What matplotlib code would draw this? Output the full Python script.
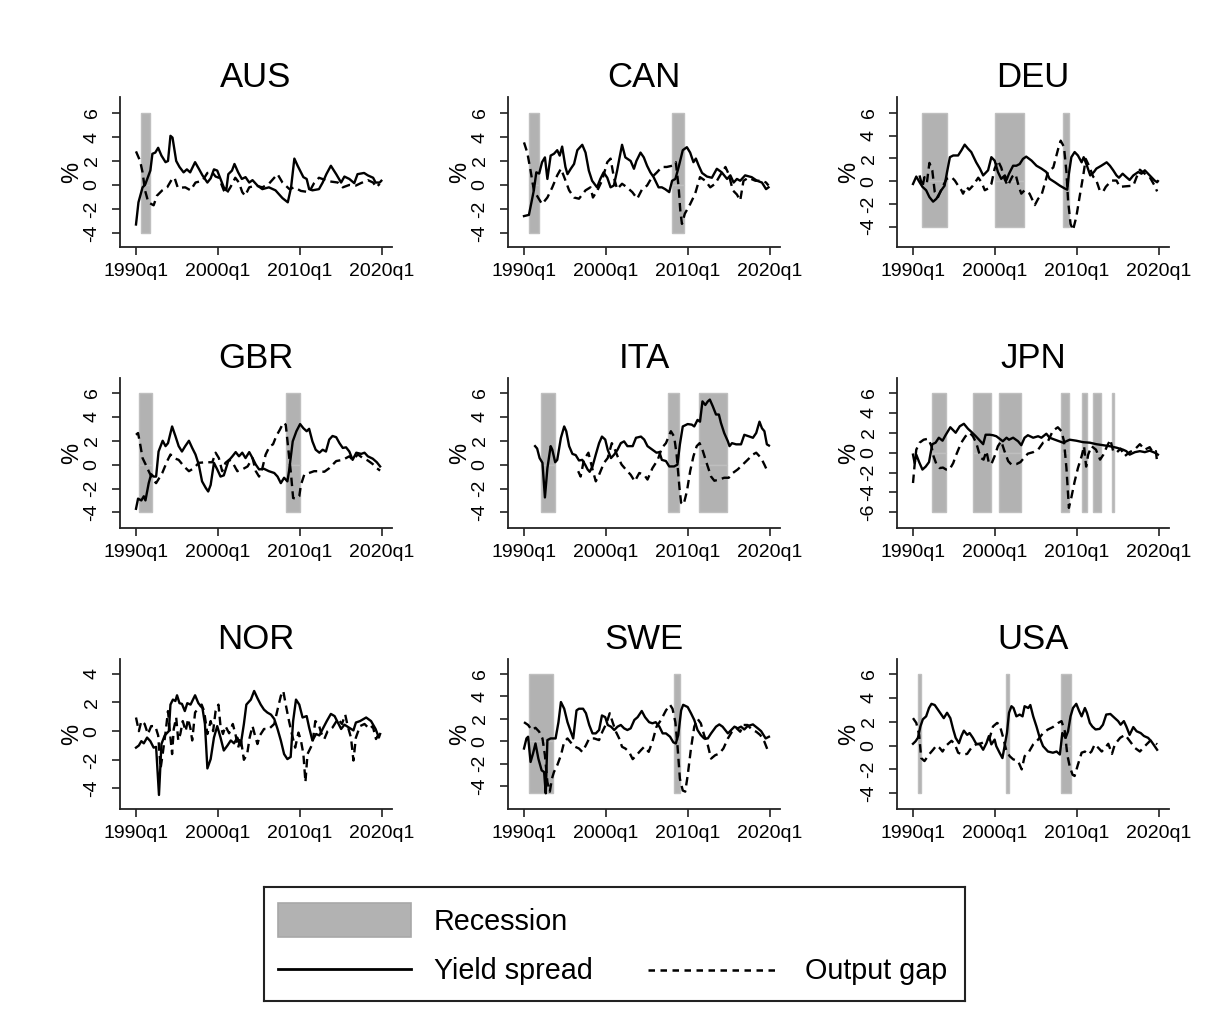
import matplotlib
matplotlib.use("Agg")
import matplotlib.pyplot as plt
from matplotlib.lines import Line2D

plt.rcParams['font.family'] = ['Liberation Sans', 'DejaVu Sans']

# ---------------- data (year, value) ----------------
AUS_YS = [(1990.0,-3.3),(1990.3,-1.45),(1990.8,-0.2),(1991.1,0.0),(1991.75,1.2),(1992.0,2.6),(1992.35,2.7),(1992.7,3.1),(1993.1,2.45),(1993.6,1.9),(1993.9,2.0),(1994.2,4.1),(1994.45,3.95),(1994.9,2.0),(1995.3,1.5),(1995.8,1.05),(1996.2,1.3),(1996.6,1.05),(1997.2,1.9),(1997.7,1.3),(1998.1,0.8),(1998.7,0.2),(1999.1,0.55),(1999.5,1.3),(1999.9,1.2),(2000.3,0.5),(2000.7,-0.2),(2001.0,-0.45),(2001.25,0.9),(2001.7,1.2),(2002.0,1.75),(2002.45,1.05),(2002.9,0.5),(2003.35,0.65),(2003.8,0.2),(2004.2,0.4),(2004.8,-0.05),(2005.4,-0.35),(2006.2,-0.2),(2007.0,-0.45),(2007.85,-1.1),(2008.5,-1.45),(2008.9,-0.2),(2009.3,2.2),(2009.7,1.6),(2010.4,0.65),(2010.8,0.5),(2011.1,-0.35),(2011.5,-0.45),(2012.3,-0.35),(2012.75,0.2),(2013.2,0.9),(2013.75,1.6),(2014.4,0.9),(2015.0,0.2),(2015.4,0.7),(2016.0,0.5),(2016.6,0.15),(2017.0,0.9),(2017.8,1.0),(2018.25,0.8),(2018.9,0.6),(2019.2,0.2),(2019.7,0.2),(2019.9,0.35)]
AUS_OG = [(1990.0,2.8),(1990.5,2.0),(1990.8,1.05),(1991.1,-0.45),(1991.5,-1.45),(1992.15,-1.7),(1992.55,-0.9),(1993.2,-0.45),(1993.8,-0.2),(1994.4,0.5),(1994.7,0.6),(1995.1,-0.25),(1996.0,-0.2),(1996.65,-0.45),(1997.25,0.2),(1998.1,0.35),(1998.7,1.0),(1999.3,1.05),(1999.7,0.7),(2000.1,0.6),(2000.7,-0.45),(2001.0,-0.75),(2001.5,-0.2),(2002.1,0.6),(2002.55,0.2),(2002.95,-0.6),(2003.3,-0.9),(2003.8,-0.2),(2004.6,-0.05),(2005.4,-0.2),(2006.2,0.1),(2006.85,0.6),(2007.25,0.9),(2007.85,0.2),(2008.7,-0.35),(2009.3,-0.2),(2010.1,-0.5),(2011.1,-0.6),(2011.7,0.15),(2012.3,0.6),(2013.55,0.3),(2014.6,0.2),(2015.2,-0.2),(2016.0,0.0),(2016.8,-0.05),(2017.4,0.15),(2018.25,0.4),(2018.9,0.2),(2019.3,-0.2),(2019.7,0.1)]
AUS_REC = [(1990.55, 1991.75)]

CAN_YS = [(1990.0,-2.6),(1990.6,-2.5),(1991.2,-0.45),(1991.5,1.05),(1991.85,0.95),(1992.2,1.9),(1992.55,2.3),(1992.85,0.5),(1993.25,2.45),(1993.65,2.6),(1994.05,2.9),(1994.35,2.45),(1994.65,3.2),(1995.05,1.5),(1995.3,0.9),(1995.7,1.35),(1996.1,1.75),(1996.5,2.9),(1997.1,3.35),(1997.5,2.7),(1997.9,1.2),(1998.3,0.35),(1998.9,-0.2),(1999.3,0.5),(1999.7,1.05),(2000.15,0.6),(2000.55,-0.2),(2000.95,-0.05),(2001.35,1.2),(2001.65,2.3),(2001.95,3.35),(2002.35,2.3),(2003.0,2.0),(2003.4,1.35),(2003.7,2.0),(2004.2,2.7),(2004.6,2.3),(2005.0,1.6),(2005.4,1.05),(2005.8,0.65),(2006.4,-0.2),(2006.8,-0.2),(2007.2,-0.35),(2007.7,-0.6),(2008.05,0.35),(2008.45,0.5),(2008.85,1.5),(2009.35,2.9),(2009.85,3.15),(2010.25,2.7),(2010.65,1.9),(2010.95,2.2),(2011.3,1.6),(2011.7,1.0),(2012.3,0.7),(2012.9,0.6),(2013.5,1.35),(2014.1,1.05),(2014.75,0.5),(2015.15,0.8),(2015.55,0.2),(2015.95,0.5),(2016.35,0.35),(2016.95,0.8),(2017.75,0.65),(2018.4,0.35),(2019.0,0.2),(2019.5,-0.35),(2019.8,-0.2)]
CAN_OG = [(1990.0,3.55),(1990.4,2.7),(1990.8,1.2),(1991.2,-0.45),(1991.8,-1.15),(1992.2,-1.6),(1992.85,-1.05),(1993.45,-0.2),(1994.05,0.8),(1994.5,1.35),(1994.9,0.65),(1995.5,-0.45),(1996.1,-1.05),(1996.7,-1.15),(1997.5,-0.45),(1998.1,-0.2),(1998.4,-1.05),(1998.95,-0.45),(1999.5,0.35),(2000.15,1.9),(2000.55,2.2),(2000.95,0.65),(2001.35,-0.35),(2001.95,0.1),(2002.55,-0.2),(2003.2,-0.6),(2003.8,-1.15),(2004.4,-0.35),(2005.0,-0.05),(2005.6,0.65),(2006.2,1.05),(2006.8,1.5),(2007.4,1.5),(2008.05,1.6),(2008.5,1.9),(2008.85,-0.2),(2009.05,-2.15),(2009.25,-3.25),(2009.6,-2.4),(2010.25,-1.6),(2010.85,-0.75),(2011.45,0.65),(2012.1,0.35),(2012.7,-0.2),(2013.3,0.1),(2013.9,0.8),(2014.55,1.5),(2014.95,0.9),(2015.45,-0.45),(2015.95,-0.8),(2016.35,-1.3),(2016.75,0.35),(2017.35,0.6),(2018.2,0.35),(2019.0,0.35),(2019.5,0.2),(2019.8,-0.05)]
CAN_REC = [(1990.6, 1991.8), (2008.05, 2009.45)]

DEU_YS = [(1990.0,-0.25),(1990.4,0.4),(1990.8,-0.1),(1991.15,-0.5),(1991.6,-0.8),(1992.0,-1.4),(1992.45,-1.8),(1992.85,-1.55),(1993.45,-0.8),(1993.85,-0.4),(1994.15,0.8),(1994.5,2.1),(1994.9,2.25),(1995.5,2.25),(1995.9,2.7),(1996.3,3.2),(1996.7,2.85),(1997.1,2.55),(1997.7,1.65),(1998.15,1.1),(1998.55,0.5),(1999.15,0.95),(1999.55,2.1),(1999.95,1.8),(2000.35,0.8),(2000.75,0.2),(2001.2,0.5),(2001.4,0.1),(2001.7,0.65),(2002.2,1.35),(2002.6,1.35),(2003.0,1.5),(2003.4,1.95),(2003.8,2.15),(2004.45,1.8),(2005.05,1.35),(2005.65,1.1),(2006.25,0.8),(2006.65,0.2),(2007.3,-0.1),(2007.9,-0.4),(2008.5,-0.65),(2008.8,-0.75),(2009.0,0.65),(2009.3,2.1),(2009.7,2.55),(2010.1,2.25),(2010.55,1.65),(2010.8,2.1),(2011.2,1.35),(2011.6,0.5),(2012.05,0.8),(2012.35,1.1),(2012.95,1.35),(2013.6,1.65),(2014.0,1.35),(2014.4,0.95),(2014.8,0.5),(2015.1,0.3),(2015.55,0.65),(2016.0,0.35),(2016.4,0.1),(2016.85,0.5),(2017.45,0.8),(2017.85,0.65),(2018.25,0.95),(2018.85,0.5),(2019.45,0.05),(2019.75,-0.1),(2019.85,0.0)]
DEU_OG = [(1990.8,0.5),(1991.15,-0.5),(1991.4,0.35),(1991.7,-0.1),(1992.0,1.6),(1992.35,0.95),(1992.65,-0.95),(1993.05,-1.4),(1993.6,-0.5),(1994.1,0.2),(1994.7,0.35),(1995.1,0.05),(1995.5,-0.4),(1995.9,-0.8),(1996.1,-1.1),(1996.5,-0.5),(1996.85,-0.75),(1997.3,-0.4),(1997.95,0.3),(1998.35,-0.1),(1998.75,-0.8),(1999.15,-0.65),(1999.55,-0.25),(1999.95,1.1),(2000.35,1.8),(2000.75,1.2),(2001.15,0.2),(2001.55,-0.4),(2002.1,0.4),(2002.5,0.6),(2002.9,-0.5),(2003.2,-1.1),(2003.6,-0.8),(2004.2,-1.1),(2004.85,-2.1),(2005.25,-1.55),(2005.65,-1.25),(2006.05,-0.25),(2006.45,0.8),(2007.1,1.2),(2007.7,2.85),(2008.0,3.55),(2008.4,3.0),(2008.7,0.8),(2008.9,-1.7),(2009.2,-3.75),(2009.5,-4.3),(2009.9,-3.15),(2010.3,-1.4),(2010.75,0.5),(2011.05,1.95),(2011.45,1.35),(2011.95,0.4),(2012.35,0.05),(2012.75,-0.8),(2013.15,-0.95),(2013.5,-0.5),(2014.2,0.05),(2014.8,0.05),(2015.2,-0.5),(2016.0,-0.45),(2016.85,-0.4),(2017.25,0.35),(2017.65,1.0),(2018.25,0.65),(2018.85,0.35),(2019.45,-0.4),(2019.75,-0.9)]
DEU_REC = [(1991.1, 1994.2), (2000.05, 2003.5), (2008.3, 2009.0)]

GBR_YS = [(1990.0,-3.7),(1990.25,-2.85),(1990.65,-3.0),(1990.95,-2.65),(1991.15,-3.0),(1991.55,-1.55),(1991.85,-0.8),(1992.15,-1.0),(1992.45,-1.0),(1992.75,1.1),(1993.25,2.0),(1993.6,1.55),(1993.9,1.8),(1994.4,3.2),(1994.8,2.4),(1995.2,1.55),(1995.6,1.1),(1996.0,1.55),(1996.45,2.0),(1996.85,1.4),(1997.25,0.85),(1997.65,0.0),(1998.05,-1.4),(1998.5,-1.95),(1998.8,-2.25),(1999.1,-1.7),(1999.5,0.15),(1999.9,-0.4),(2000.3,-1.0),(2000.7,-0.9),(2001.25,0.3),(2001.75,0.7),(2002.15,1.05),(2002.55,0.7),(2002.95,1.0),(2003.35,0.55),(2003.8,1.05),(2004.2,0.55),(2004.6,0.0),(2005.0,-0.4),(2005.6,-0.35),(2006.2,-0.55),(2006.85,-0.7),(2007.25,-1.0),(2007.65,-1.55),(2008.05,-1.1),(2008.45,-1.4),(2008.65,-0.55),(2009.1,1.95),(2009.55,2.8),(2010.0,3.4),(2010.4,3.05),(2010.8,2.8),(2011.1,3.0),(2011.5,1.95),(2011.9,1.25),(2012.35,1.0),(2012.75,1.25),(2013.15,1.1),(2013.55,2.1),(2013.95,2.4),(2014.4,2.3),(2014.8,1.8),(2015.2,1.4),(2015.6,1.45),(2016.0,1.1),(2016.4,0.4),(2016.85,1.0),(2017.45,0.9),(2017.85,1.0),(2018.25,0.7),(2018.85,0.5),(2019.35,0.2),(2019.75,-0.15)]
GBR_OG = [(1990.0,2.5),(1990.25,2.65),(1990.55,1.55),(1990.8,0.55),(1991.15,0.05),(1991.55,-0.55),(1992.05,-1.25),(1992.45,-1.55),(1992.85,-1.1),(1993.2,-0.7),(1993.8,0.3),(1994.2,0.85),(1994.6,0.55),(1995.2,0.4),(1995.85,-0.15),(1996.45,-0.55),(1997.05,-0.3),(1997.65,0.15),(1998.5,0.2),(1999.3,0.2),(1999.7,1.0),(2000.1,0.55),(2000.5,-0.55),(2000.9,0.15),(2001.35,0.4),(2001.75,0.2),(2002.35,-0.55),(2002.95,-0.4),(2003.6,-0.15),(2004.2,0.55),(2004.6,-0.55),(2005.0,-1.0),(2005.4,-0.3),(2005.8,0.85),(2006.3,1.55),(2006.7,1.7),(2007.1,2.4),(2007.55,2.95),(2007.95,3.5),(2008.25,3.35),(2008.55,1.4),(2008.9,-0.85),(2009.15,-2.8),(2009.55,-2.85),(2009.9,-2.65),(2010.1,-1.7),(2010.5,-0.85),(2011.1,-0.7),(2011.7,-0.55),(2012.35,-0.55),(2012.95,-0.6),(2013.55,-0.3),(2014.4,0.3),(2015.2,0.4),(2016.0,0.7),(2016.4,0.4),(2017.05,0.85),(2017.65,0.55),(2018.25,0.35),(2018.85,0.05),(2019.35,-0.3),(2019.75,-0.5)]
GBR_REC = [(1990.35, 1991.95), (2008.25, 2010.0)]

ITA_YS = [(1991.35,1.55),(1991.6,1.35),(1991.9,0.55),(1992.25,0.15),(1992.55,-2.75),(1992.85,-0.3),(1993.25,1.55),(1993.45,1.25),(1993.8,0.2),(1994.05,0.4),(1994.5,2.25),(1994.9,3.2),(1995.15,2.8),(1995.5,1.55),(1995.9,0.9),(1996.3,0.8),(1996.7,0.35),(1997.1,0.4),(1997.45,0.0),(1997.75,-0.4),(1998.0,-0.6),(1998.35,-0.15),(1998.75,0.85),(1999.15,1.8),(1999.5,2.35),(1999.9,2.1),(2000.2,1.25),(2000.6,0.55),(2001.0,0.85),(2001.4,1.25),(2001.8,1.8),(2002.2,1.95),(2002.6,1.55),(2003.25,1.55),(2003.65,2.25),(2004.25,2.35),(2004.65,2.1),(2005.05,1.55),(2005.65,1.25),(2006.15,1.0),(2006.5,1.05),(2006.8,0.4),(2007.3,0.3),(2007.7,-0.15),(2008.3,-0.15),(2008.7,0.0),(2009.0,1.7),(2009.35,3.2),(2009.95,3.4),(2010.45,3.35),(2010.75,3.2),(2011.15,3.75),(2011.45,3.6),(2011.75,5.3),(2012.1,5.0),(2012.4,5.3),(2012.65,5.45),(2013.0,4.9),(2013.4,4.2),(2013.75,4.2),(2014.0,3.5),(2014.4,2.65),(2014.85,1.95),(2015.05,1.55),(2015.35,1.8),(2015.85,1.7),(2016.45,1.7),(2016.85,2.5),(2017.5,2.35),(2017.9,2.25),(2018.3,2.65),(2018.7,3.6),(2019.0,3.05),(2019.3,2.8),(2019.6,1.7),(2019.85,1.6)]
ITA_OG = [(1996.6,-0.55),(1996.9,-1.0),(1997.3,0.4),(1997.85,1.0),(1998.35,-0.4),(1998.75,-1.4),(1999.15,-0.85),(1999.75,0.15),(2000.2,0.55),(2000.7,1.8),(2001.0,1.4),(2001.4,0.7),(2001.9,0.0),(2002.4,-0.4),(2003.0,-0.85),(2003.5,-1.4),(2004.05,-0.7),(2004.65,-0.85),(2005.05,-1.25),(2005.65,-0.3),(2006.3,0.4),(2006.8,1.4),(2007.3,1.8),(2007.9,2.8),(2008.3,2.35),(2008.6,0.85),(2008.95,-1.95),(2009.15,-3.2),(2009.45,-3.35),(2009.85,-2.25),(2010.25,-0.55),(2010.65,0.7),(2011.05,1.55),(2011.4,1.8),(2011.75,1.25),(2012.25,0.15),(2012.8,-1.0),(2013.2,-1.35),(2013.8,-1.25),(2014.4,-1.1),(2014.95,-1.1),(2015.45,-0.7),(2016.05,-0.4),(2016.65,0.0),(2017.25,0.4),(2017.9,0.85),(2018.3,1.0),(2018.9,0.55),(2019.3,0.0),(2019.7,-0.6)]
ITA_REC = [(1992.1, 1993.8), (2007.6, 2008.95), (2011.35, 2014.75)]

JPN_YS = [(1990.0,-0.2),(1990.2,-1.05),(1990.4,-0.2),(1990.75,-0.95),(1991.15,-1.7),(1991.55,-1.4),(1991.95,-0.95),(1992.35,0.85),(1992.75,1.0),(1993.15,1.5),(1993.6,1.2),(1994.0,1.8),(1994.55,2.55),(1995.2,2.0),(1995.7,2.65),(1996.2,2.9),(1996.7,2.4),(1997.1,2.1),(1997.65,1.65),(1998.05,1.3),(1998.55,0.85),(1998.85,1.8),(1999.35,1.8),(1999.75,1.75),(2000.15,1.65),(2000.55,1.4),(2000.95,1.15),(2001.4,1.5),(2001.7,1.3),(2002.2,1.5),(2002.8,1.15),(2003.2,0.75),(2003.6,1.5),(2004.0,1.75),(2004.65,1.5),(2005.25,1.65),(2005.65,1.5),(2006.25,1.9),(2006.65,1.5),(2007.3,1.3),(2007.8,1.15),(2008.3,1.0),(2008.7,1.15),(2009.1,1.3),(2009.9,1.2),(2010.75,1.05),(2011.55,1.0),(2012.35,0.85),(2013.15,0.75),(2013.95,0.65),(2014.8,0.5),(2015.6,0.3),(2016.0,0.15),(2016.4,-0.2),(2017.05,0.05),(2017.65,0.15),(2018.25,0.05),(2018.85,0.2),(2019.45,0.0),(2019.85,-0.2)]
JPN_OG = [(1990.0,-3.05),(1990.2,-1.2),(1990.4,0.3),(1990.8,1.0),(1991.3,1.3),(1991.85,1.4),(1992.25,0.65),(1992.5,-0.35),(1992.85,-1.15),(1993.25,-1.55),(1993.65,-1.5),(1994.05,-1.7),(1994.45,-1.7),(1994.9,-1.05),(1995.2,-0.35),(1995.6,0.45),(1996.0,1.15),(1996.4,1.65),(1996.9,2.0),(1997.3,1.65),(1997.7,1.0),(1998.05,0.0),(1998.3,-0.55),(1998.6,-0.7),(1998.95,0.15),(1999.25,-1.05),(1999.55,-1.15),(1999.95,-0.35),(2000.35,0.65),(2000.75,1.15),(2001.15,0.15),(2001.6,-0.85),(2002.0,-1.2),(2002.6,-1.15),(2003.1,-0.95),(2003.5,-0.55),(2004.0,-0.1),(2004.65,0.05),(2005.25,0.3),(2005.85,1.0),(2006.45,1.15),(2007.05,2.2),(2007.65,2.55),(2008.1,2.15),(2008.4,1.15),(2008.7,-1.55),(2008.9,-4.2),(2009.0,-5.55),(2009.3,-4.5),(2009.7,-2.9),(2010.1,-1.55),(2010.55,-0.35),(2010.85,0.65),(2011.1,-1.4),(2011.35,-0.2),(2011.75,0.65),(2012.3,0.3),(2012.8,-0.7),(2013.2,-0.2),(2013.65,0.65),(2014.05,1.3),(2014.4,0.15),(2014.8,0.0),(2015.3,0.4),(2015.8,-0.35),(2016.4,0.05),(2017.0,0.3),(2017.65,0.85),(2018.25,0.3),(2018.85,0.55),(2019.25,0.0),(2019.6,0.15),(2019.75,-0.95)]
JPN_REC = [(1992.3, 1994.0), (1997.3, 1999.45), (2000.5, 2003.2), (2008.0, 2009.0), (2010.55, 2011.25), (2011.95, 2012.95), (2014.2, 2014.5)]

NOR_YS = [(1990.0,-1.15),(1990.35,-1.0),(1990.65,-0.7),(1990.95,-0.85),(1991.35,-0.45),(1991.75,-0.7),(1992.15,-1.15),(1992.45,-1.1),(1992.8,-4.45),(1993.1,-0.9),(1993.5,-0.3),(1994.0,0.0),(1994.2,1.85),(1994.5,2.2),(1994.8,2.1),(1995.0,2.5),(1995.3,1.95),(1995.6,1.9),(1995.95,1.4),(1996.25,1.95),(1996.65,1.85),(1997.2,2.5),(1997.6,1.95),(1998.1,1.6),(1998.4,0.5),(1998.7,-2.6),(1999.1,-1.95),(1999.5,-0.45),(1999.9,0.35),(2000.3,-0.45),(2000.7,-1.35),(2001.15,-1.0),(2001.55,-0.65),(2001.95,-0.85),(2002.35,-0.45),(2002.75,-1.0),(2003.15,0.5),(2003.45,1.85),(2004.0,2.2),(2004.4,2.8),(2004.8,2.3),(2005.2,1.85),(2005.6,1.5),(2006.0,1.3),(2006.45,1.15),(2006.85,0.85),(2007.25,0.15),(2007.65,-0.65),(2008.05,-1.6),(2008.45,-1.95),(2008.85,-1.8),(2009.15,0.7),(2009.5,2.2),(2009.9,1.85),(2010.3,0.95),(2010.8,1.05),(2011.1,0.25),(2011.5,-0.65),(2011.95,-0.2),(2012.35,-0.3),(2012.75,0.15),(2013.25,0.7),(2013.75,1.2),(2014.2,1.05),(2014.6,0.6),(2015.0,0.15),(2015.4,0.45),(2015.95,0.25),(2016.5,0.05),(2016.8,0.6),(2017.3,0.7),(2018.05,0.95),(2018.65,0.7),(2019.2,0.15),(2019.6,-0.45),(2019.75,-0.2)]
NOR_OG = [(1990.0,0.95),(1990.35,0.0),(1990.65,0.7),(1991.05,0.5),(1991.45,-0.2),(1991.85,0.35),(1992.35,0.35),(1992.7,-0.3),(1993.0,-2.6),(1993.25,-1.6),(1993.6,-0.1),(1993.9,1.4),(1994.2,-0.45),(1994.4,-1.6),(1994.6,0.15),(1994.9,0.95),(1995.15,-0.65),(1995.4,-0.2),(1995.7,0.7),(1996.05,0.0),(1996.35,0.85),(1996.65,0.15),(1996.85,-0.65),(1997.2,1.3),(1997.6,1.6),(1998.0,1.85),(1998.3,1.4),(1998.7,-0.2),(1999.1,0.7),(1999.4,0.0),(1999.7,1.4),(2000.05,1.85),(2000.3,0.35),(2000.6,-0.2),(2000.9,0.35),(2001.35,-0.15),(2001.8,0.5),(2002.15,-0.3),(2002.45,-1.15),(2002.75,-0.45),(2003.15,-2.0),(2003.55,-1.6),(2003.85,-0.45),(2004.2,0.35),(2004.5,-0.3),(2004.8,-0.9),(2005.1,-0.3),(2005.6,0.15),(2006.2,0.15),(2006.85,0.5),(2007.25,1.5),(2007.65,2.45),(2007.95,2.8),(2008.25,1.85),(2008.65,0.7),(2009.0,-0.2),(2009.4,-1.15),(2009.8,-0.1),(2010.1,-0.65),(2010.4,-1.6),(2010.65,-3.55),(2010.9,-1.6),(2011.2,-1.25),(2011.5,-0.9),(2011.85,0.7),(2012.25,0.5),(2012.55,-0.1),(2012.95,-0.55),(2013.35,0.0),(2013.95,0.25),(2014.6,0.85),(2015.1,0.5),(2015.5,1.15),(2015.8,0.35),(2016.2,-0.45),(2016.5,-2.05),(2016.8,-0.45),(2017.3,0.35),(2017.85,0.5),(2018.45,0.15),(2018.85,0.35),(2019.25,-0.55),(2019.6,-0.2)]
NOR_REC = []

SWE_YS = [(1990.0,-0.65),(1990.3,0.25),(1990.5,0.4),(1990.8,-1.85),(1991.1,-1.1),(1991.4,-0.2),(1991.75,-1.55),(1992.15,-2.6),(1992.45,-2.75),(1992.65,-4.65),(1992.85,0.1),(1993.25,0.25),(1993.85,0.25),(1994.2,1.7),(1994.5,3.5),(1994.9,2.9),(1995.3,1.7),(1995.7,0.85),(1996.0,0.25),(1996.4,2.75),(1996.7,2.9),(1997.2,2.9),(1997.55,2.5),(1997.95,1.45),(1998.35,0.7),(1998.75,0.7),(1999.15,1.0),(1999.5,2.3),(1999.9,2.15),(2000.2,1.45),(2000.6,1.3),(2001.0,1.0),(2001.4,1.3),(2001.8,1.45),(2002.2,1.15),(2002.6,1.0),(2003.0,1.15),(2003.45,1.9),(2003.85,2.15),(2004.35,2.7),(2004.75,2.15),(2005.25,1.7),(2005.65,1.6),(2006.05,1.7),(2006.5,1.3),(2006.9,0.7),(2007.3,0.7),(2007.8,0.4),(2008.2,-0.1),(2008.5,-0.2),(2008.8,0.55),(2009.15,2.75),(2009.4,3.25),(2009.95,3.05),(2010.35,2.5),(2010.75,1.9),(2011.15,1.0),(2011.55,0.55),(2011.95,0.25),(2012.4,0.25),(2012.8,0.7),(2013.4,1.3),(2013.8,1.5),(2014.2,1.3),(2014.85,0.7),(2015.25,1.0),(2015.65,1.3),(2016.05,1.15),(2016.45,1.3),(2016.85,1.05),(2017.25,1.35),(2017.9,1.5),(2018.5,1.15),(2018.9,0.9),(2019.45,0.25),(2019.85,0.4)]
SWE_OG = [(1990.0,1.7),(1990.5,1.45),(1990.95,1.0),(1991.4,1.2),(1991.85,0.85),(1992.25,0.25),(1992.55,-1.25),(1992.85,-3.65),(1993.15,-4.5),(1993.4,-3.35),(1993.65,-2.75),(1994.05,-2.15),(1994.5,-1.25),(1994.9,-0.05),(1995.3,0.25),(1995.8,-0.2),(1996.25,-0.5),(1996.7,-0.65),(1997.1,-0.95),(1997.55,-0.35),(1997.95,0.25),(1998.55,0.25),(1999.15,0.1),(1999.55,0.85),(2000.05,1.6),(2000.45,2.5),(2000.8,1.7),(2001.2,0.85),(2001.6,0.25),(2001.95,-0.5),(2002.35,-0.65),(2002.8,-0.95),(2003.25,-1.6),(2003.7,-1.25),(2004.25,-0.8),(2004.65,-0.5),(2005.2,-0.95),(2005.65,-0.05),(2006.15,1.3),(2006.7,1.9),(2007.3,2.75),(2007.8,3.25),(2008.1,2.9),(2008.45,1.7),(2008.7,-0.35),(2009.0,-3.35),(2009.35,-4.4),(2009.65,-4.5),(2009.95,-3.05),(2010.35,-0.65),(2010.75,1.3),(2011.15,2.0),(2011.55,1.6),(2011.95,0.55),(2012.4,-0.35),(2012.8,-1.55),(2013.3,-1.25),(2013.8,-1.1),(2014.3,-0.65),(2014.85,0.25),(2015.35,0.85),(2015.85,1.2),(2016.35,0.85),(2016.75,1.45),(2017.25,1.45),(2017.8,1.0),(2018.3,0.85),(2018.8,0.55),(2019.3,-0.05),(2019.7,-0.8)]
SWE_REC = [(1990.6, 1993.55), (2008.3, 2009.0)]

USA_YS = [(1990.0,0.15),(1990.3,0.35),(1990.6,0.65),(1990.9,1.6),(1991.2,2.2),(1991.6,2.45),(1991.95,3.15),(1992.25,3.5),(1992.65,3.4),(1993.05,3.0),(1993.45,2.6),(1993.75,2.3),(1994.15,2.75),(1994.55,2.3),(1994.9,1.35),(1995.2,0.65),(1995.6,0.2),(1995.9,0.8),(1996.2,1.25),(1996.6,0.9),(1996.9,1.05),(1997.3,0.65),(1997.7,0.15),(1998.15,0.1),(1998.55,-0.35),(1998.95,0.2),(1999.25,0.8),(1999.55,0.1),(1999.95,0.5),(2000.15,-0.05),(2000.55,-0.6),(2000.9,-1.05),(2001.2,0.1),(2001.45,1.05),(2001.7,2.75),(2002.0,3.3),(2002.25,3.15),(2002.6,2.45),(2003.0,2.6),(2003.35,2.45),(2003.6,3.3),(2004.05,3.15),(2004.3,3.4),(2004.65,2.45),(2005.05,1.6),(2005.45,0.65),(2005.85,-0.05),(2006.45,-0.5),(2007.05,-0.6),(2007.5,-0.5),(2007.9,-0.75),(2008.2,1.05),(2008.6,0.65),(2008.9,1.2),(2009.2,2.45),(2009.5,3.15),(2009.9,3.5),(2010.25,2.9),(2010.55,2.45),(2010.95,3.15),(2011.2,2.75),(2011.55,1.9),(2011.85,1.6),(2012.25,1.35),(2012.75,1.4),(2013.15,1.75),(2013.55,2.6),(2014.05,2.65),(2014.6,2.3),(2015.0,2.05),(2015.3,1.75),(2015.7,2.05),(2016.0,1.6),(2016.4,0.9),(2016.85,1.55),(2017.25,1.2),(2017.75,1.05),(2018.15,0.8),(2018.65,0.65),(2019.05,0.35),(2019.45,-0.05),(2019.75,-0.35)]
USA_OG = [(1990.0,2.3),(1990.4,1.9),(1990.75,0.9),(1991.0,-1.05),(1991.4,-1.3),(1991.95,-0.75),(1992.45,-0.35),(1992.85,0.0),(1993.25,-0.2),(1993.6,-0.5),(1994.05,0.0),(1994.7,0.4),(1995.1,0.1),(1995.5,-0.6),(1996.0,-0.75),(1996.6,-0.7),(1997.1,-0.2),(1997.7,0.1),(1998.35,0.2),(1998.95,0.4),(1999.35,0.65),(1999.75,1.6),(2000.25,1.9),(2000.55,1.75),(2001.0,0.65),(2001.4,-0.5),(2001.8,-0.9),(2002.2,-1.15),(2002.8,-1.3),(2003.25,-2.0),(2003.6,-0.9),(2004.15,-0.5),(2004.65,0.1),(2005.25,0.5),(2005.85,1.05),(2006.45,1.35),(2007.05,1.55),(2007.7,1.9),(2008.1,2.05),(2008.5,1.2),(2008.8,-0.75),(2009.1,-1.75),(2009.45,-2.45),(2009.7,-2.55),(2010.1,-1.6),(2010.55,-0.6),(2010.95,-0.5),(2011.35,-0.75),(2011.75,-0.5),(2012.15,0.1),(2012.6,-0.2),(2013.0,-0.5),(2013.4,-0.2),(2013.8,0.15),(2014.25,-0.7),(2014.6,0.1),(2015.25,0.65),(2015.85,0.9),(2016.4,0.4),(2017.05,-0.2),(2017.65,-0.5),(2018.25,-0.05),(2018.9,0.4),(2019.35,0.35),(2019.75,0.1)]
USA_REC = [(1990.6, 1991.0), (2001.3, 2001.7), (2008.0, 2009.2)]

countries = ['AUS', 'CAN', 'DEU', 'GBR', 'ITA', 'JPN', 'NOR', 'SWE', 'USA']
yield_spread = [AUS_YS, CAN_YS, DEU_YS, GBR_YS, ITA_YS, JPN_YS, NOR_YS, SWE_YS, USA_YS]
output_gap = [AUS_OG, CAN_OG, DEU_OG, GBR_OG, ITA_OG, JPN_OG, NOR_OG, SWE_OG, USA_OG]
recessions = [AUS_REC, CAN_REC, DEU_REC, GBR_REC, ITA_REC, JPN_REC, NOR_REC, SWE_REC, USA_REC]
rec_low = [-4, -4, -4, -4, -4, -6, -4, -4.6, -4]
rec_high = [6, 6, 6, 6, 6, 6, 6, 6, 6]
y_ticks = [[-4, -2, 0, 2, 4, 6]] * 5 + [[-6, -4, -2, 0, 2, 4, 6], [-4, -2, 0, 2, 4], [-4, -2, 0, 2, 4, 6], [-4, -2, 0, 2, 4, 6]]
x_ticks = [1990, 2000, 2010, 2020]
x_tick_labels = ['1990q1', '2000q1', '2010q1', '2020q1']

# ---------------- layout / style ----------------
W_PX, H_PX = 1214, 1025
col_left = [120, 508, 897]
row_top = [97, 378, 659]
ax_w, ax_h = 272, 150
y_limits = [(-5.18, 7.34), (-5.18, 7.34), (-5.78, 7.38),
            (-5.31, 7.26), (-5.31, 7.26), (-7.57, 7.5),
            (-5.43, 5.03), (-6.05, 7.34), (-5.32, 7.26)]
REC_FILL = '#b2b2b2'
REC_EDGE = '#bfbfbf'
LW = 1.7
DASH = (0, (3.6, 2.2))

fig = plt.figure(figsize=(W_PX / 100, H_PX / 100), dpi=100)
fig.patch.set_facecolor('white')

for i, name in enumerate(countries):
    r, c = divmod(i, 3)
    L, T = col_left[c], row_top[r]
    ax = fig.add_axes([L / W_PX, 1 - (T + ax_h) / H_PX, ax_w / W_PX, ax_h / H_PX])
    for (a, b) in recessions[i]:
        # upper and lower part of the shaded recession bar (meeting at zero)
        ax.bar(a, rec_high[i], width=b - a, bottom=0, align='edge',
               color=REC_FILL, edgecolor=REC_EDGE, linewidth=1.0, zorder=1)
        ax.bar(a, rec_low[i], width=b - a, bottom=0, align='edge',
               color=REC_FILL, edgecolor=REC_EDGE, linewidth=1.0, zorder=1)
    t, v = zip(*yield_spread[i])
    ax.plot(t, v, color='black', lw=LW, zorder=3, solid_joinstyle='round')
    t, v = zip(*output_gap[i])
    ax.plot(t, v, color='black', lw=LW, linestyle=DASH, zorder=3)
    ax.set_xlim(1988.05, 2021.2)
    ax.set_ylim(*y_limits[i])
    ax.set_xticks(x_ticks)
    ax.set_xticklabels(x_tick_labels)
    ax.set_yticks(y_ticks[i])
    ax.set_yticklabels([str(v) for v in y_ticks[i]], rotation=90, va='center')
    for s in ('top', 'right'):
        ax.spines[s].set_visible(False)
    for s in ('left', 'bottom'):
        ax.spines[s].set_linewidth(1.3)
        ax.spines[s].set_color('#222222')
    ax.tick_params(axis='x', direction='out', length=6, width=1.2, pad=5.5, labelsize=14, color='#222222')
    ax.tick_params(axis='y', direction='out', length=6, width=1.2, pad=8, labelsize=14, color='#222222')
    ax.text(0.5, 1 + 10 / ax_h, name, transform=ax.transAxes, ha='center', va='baseline', fontsize=25)
    ax.text((72 - 120) / ax_w, 0.5, '%', transform=ax.transAxes, rotation=90,
            ha='center', va='center', fontsize=17)

# ---------------- legend ----------------
lg_l, lg_t, lg_r, lg_b = 264, 887, 965, 1001
lax = fig.add_axes([lg_l / W_PX, 1 - lg_b / H_PX, (lg_r - lg_l) / W_PX, (lg_b - lg_t) / H_PX])
lax.set_xlim(lg_l, lg_r)
lax.set_ylim(lg_b, lg_t)
lax.set_xticks([])
lax.set_yticks([])
for s in lax.spines.values():
    s.set_linewidth(1.5)
    s.set_color('#222222')
lax.add_patch(plt.Rectangle((278, 903), 133, 34, facecolor=REC_FILL, edgecolor='#a8a8a8', lw=1.2))
lax.add_line(Line2D([278, 411], [969, 969], color='black', lw=2.0))
lax.add_line(Line2D([648, 777], [970, 970], color='black', lw=1.8, linestyle=(0, (2.6, 2.2))))
lax.text(434, 922, 'Recession', fontsize=20.7, va='center', ha='left')
lax.text(434, 971, 'Yield spread', fontsize=20.7, va='center', ha='left')
lax.text(805, 971, 'Output gap', fontsize=20.7, va='center', ha='left')

fig.savefig('out.png', dpi=100, facecolor='white')
